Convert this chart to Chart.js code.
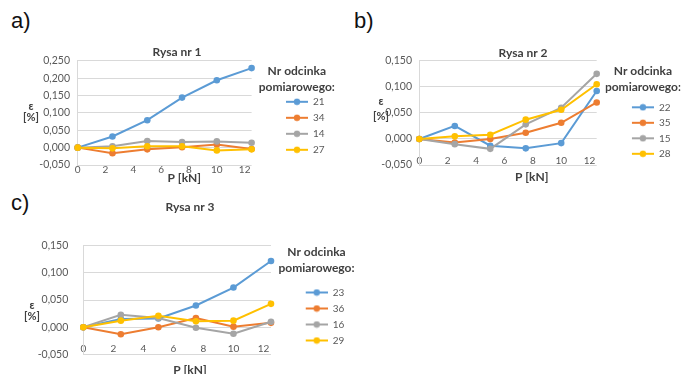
<!DOCTYPE html>
<html>
<head>
<meta charset="utf-8">
<script src="https://cdn.jsdelivr.net/npm/chart.js@4.4.1/dist/chart.umd.min.js"></script>
<style>
body { margin: 0; width: 696px; height: 374px; overflow: hidden; background: #fff; position: relative; }
.tag { position: absolute; font-family: "Liberation Sans", Arial, sans-serif; font-size: 22px; line-height: 22px; color: #111; }
canvas { position: absolute; }
</style>
</head>
<body>
<div class="tag" style="left:11px;top:10px">a)</div>
<div class="tag" style="left:354px;top:10px">b)</div>
<div class="tag" style="left:11px;top:192px">c)</div>
<canvas id="rysa1" width="354" height="150" style="left:0;top:40px"></canvas>
<canvas id="rysa2" width="346" height="150" style="left:350px;top:40px"></canvas>
<canvas id="rysa3" width="380" height="194" style="left:0;top:190px"></canvas>
<script>
// load steps P [kN]
const loadKN = [0, 2.5, 5, 7.5, 10, 12.5];
const seriesColors = ['#5B9BD5', '#ED7D31', '#A5A5A5', '#FFC000'];

// Rysa nr 1
const rysa1Names = ['21', '34', '14', '27'];
const seg21 = [0, 0.032, 0.079, 0.144, 0.194, 0.229];
const seg34 = [0, -0.016, -0.005, 0.001, 0.009, -0.004];
const seg14 = [0, 0.004, 0.019, 0.016, 0.018, 0.014];
const seg27 = [0, -0.002, 0.004, 0.004, -0.008, -0.005];

// Rysa nr 2
const rysa2Names = ['22', '35', '15', '28'];
const seg22 = [0, 0.025, -0.013, -0.018, -0.008, 0.092];
const seg35 = [0, -0.007, 0.0, 0.012, 0.031, 0.070];
const seg15 = [0, -0.010, -0.019, 0.028, 0.060, 0.125];
const seg28 = [0, 0.005, 0.008, 0.037, 0.056, 0.105];

// Rysa nr 3
const rysa3Names = ['23', '36', '16', '29'];
const seg23 = [0, 0.015, 0.016, 0.040, 0.073, 0.122];
const seg36 = [0, -0.013, 0.0, 0.017, 0.001, 0.008];
const seg16 = [0, 0.023, 0.017, -0.001, -0.012, 0.010];
const seg29 = [0, 0.012, 0.021, 0.011, 0.012, 0.043];

const FONT = 'Lato, "Open Sans", sans-serif';
Chart.defaults.font.family = FONT;

// small picture for the legend: line with marker
function legendPic(color) {
    const c = document.createElement('canvas');
    c.width = 43; c.height = 8;
    const g = c.getContext('2d');
    g.strokeStyle = color; g.lineWidth = 2;
    g.beginPath(); g.moveTo(21, 4); g.lineTo(43, 4); g.stroke();
    g.fillStyle = color;
    g.beginPath(); g.arc(32, 4, 3.2, 0, Math.PI * 2); g.fill();
    return c;
}

// horizontal y axis title (epsilon [%])
const yTitle = {
    id: 'yTitle',
    afterDraw(chart, args, opts) {
        const ctx = chart.ctx;
        ctx.save();
        ctx.font = 'bold 11px ' + FONT;
        ctx.fillStyle = '#404040';
        ctx.textAlign = 'center';
        ctx.textBaseline = 'middle';
        ctx.fillText('ε', opts.x, opts.y[0]);
        ctx.fillText('[%]', opts.x, opts.y[1]);
        ctx.restore();
    }
};

function drawRysa(id, title, names, series, yMax, b) {
    const datasets = series.map((vals, i) => ({
        label: names[i],
        data: loadKN.map((x, j) => ({ x: x, y: vals[j] })),
        borderColor: seriesColors[i],
        backgroundColor: seriesColors[i],
        pointBackgroundColor: seriesColors[i],
        pointBorderColor: seriesColors[i],
        pointRadius: 3.3,
        pointBorderWidth: 0,
        borderWidth: 2,
        tension: 0,
        clip: false,
        order: names.length - i
    }));

    new Chart(id, {
        type: 'line',
        data: { datasets: datasets },
        plugins: [yTitle],
        options: {
            responsive: false,
            animation: false,
            devicePixelRatio: 1,
            layout: { padding: { left: b.pad, right: b.pad, top: 0, bottom: 0 } },
            scales: {
                x: {
                    type: 'linear',
                    min: 0, max: 12.5,
                    position: { y: 0 },
                    grid: { display: false },
                    border: { display: false },
                    ticks: { stepSize: 2, includeBounds: false, padding: 8, color: '#595959', font: { size: 10 } }
                },
                y: {
                    min: -0.05, max: yMax,
                    grid: { color: '#D9D9D9', drawTicks: false },
                    border: { display: true, color: '#D9D9D9' },
                    ticks: {
                        stepSize: 0.05, padding: b.tickPad, color: '#595959', font: { size: 10.5 },
                        callback: v => (Math.abs(v) < 1e-9 ? 0 : v).toFixed(3).replace('.', ',')
                    },
                    afterFit: s => { s.width = b.yWidth; }
                },
                gap: {
                    type: 'linear',
                    position: 'right',
                    grid: { display: false },
                    border: { display: false },
                    ticks: { display: false },
                    afterFit: s => { s.width = b.gap; }
                }
            },
            plugins: {
                title: {
                    display: true, text: title, color: '#404040',
                    font: { size: 12, weight: 'bold' },
                    padding: b.titlePad
                },
                subtitle: {
                    display: true, text: b.xName, position: 'bottom', color: '#404040',
                    font: { size: 12, weight: 'bold' },
                    padding: b.subPad
                },
                legend: {
                    position: 'right',
                    align: 'start',
                    fullSize: false,
                    maxWidth: 200,
                    title: {
                        display: true,
                        text: ['Nr odcinka', 'pomiarowego:'],
                        color: '#404040',
                        font: { size: 12, weight: 'bold', lineHeight: b.legLine },
                        padding: b.legPad
                    },
                    labels: {
                        usePointStyle: true,
                        pointStyleWidth: 43,
                        padding: b.rowPad,
                        color: '#595959',
                        font: { size: 10 },
                        generateLabels: chart => chart.data.datasets.map((ds, i) => ({
                            text: ds.label,
                            pointStyle: legendPic(ds.borderColor),
                            fillStyle: ds.borderColor,
                            strokeStyle: ds.borderColor,
                            fontColor: '#595959',
                            lineWidth: 0,
                            hidden: false,
                            datasetIndex: i
                        }))
                    }
                },
                tooltip: { enabled: false },
                yTitle: b.yTitle
            }
        }
    });
}

drawRysa('rysa1', 'Rysa nr 1', rysa1Names, [seg21, seg34, seg14, seg27], 0.25, {
    pad: 19.4, yWidth: 58.3, tickPad: 7.7, gap: 7.4, xName: '     P [kN]',
    titlePad: { top: 5, bottom: 1.4 }, subPad: { top: 5.8, bottom: 4.8 },
    legPad: { top: 4.5, bottom: 9.9 }, legLine: 1.3, rowPad: 6,
    yTitle: { x: 31, y: [66.5, 77] }
});

drawRysa('rysa2', 'Rysa nr 2', rysa2Names, [seg22, seg35, seg15, seg28], 0.15, {
    pad: 15.5, yWidth: 53.8, tickPad: 7.3, gap: 8.7, xName: '      P [kN]',
    titlePad: { top: 6, bottom: 0.4 }, subPad: { top: 4.8, bottom: 5.8 },
    legPad: { top: 4.5, bottom: 15.9 }, legLine: 1.3, rowPad: 5.5,
    yTitle: { x: 31, y: [61, 76] }
});

drawRysa('rysa3', 'Rysa nr 3', rysa3Names, [seg23, seg36, seg16, seg29], 0.15, {
    pad: 25.7, yWidth: 57.6, tickPad: 15, gap: 7.7, xName: 'P [kN]',
    titlePad: { top: 9.7, bottom: 31.7 }, subPad: { top: 8.5, bottom: 6.8 },
    legPad: { top: 0, bottom: 18.9 }, legLine: 1.4, rowPad: 6,
    yTitle: { x: 32, y: [115, 126] }
});
</script>
</body>
</html>
